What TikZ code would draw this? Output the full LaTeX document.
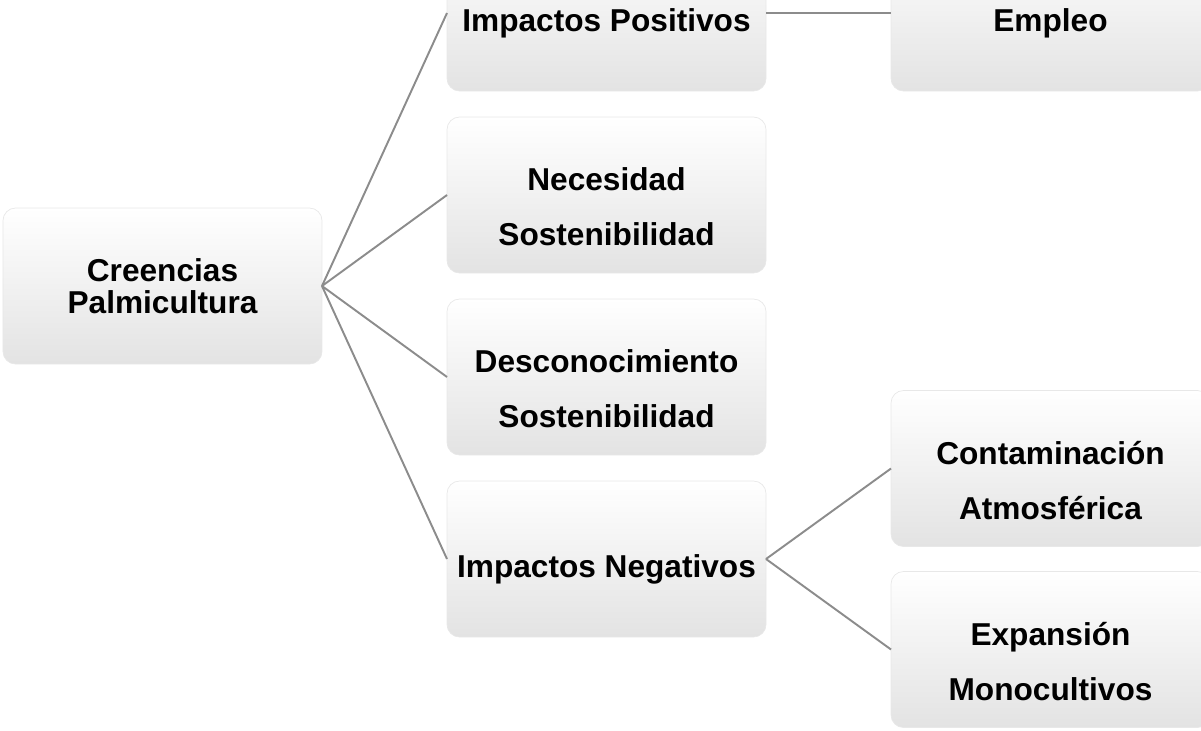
\documentclass[tikz,border=0pt]{standalone}
\usepackage{fontspec}
\setmainfont{Liberation Sans}
\usepackage{xcolor}
\usepackage{tikz}
\usetikzlibrary{positioning}

\newcommand{\twolines}[2]{\begin{tabular}{@{}c@{}}\rule{0pt}{32pt}#1\\[12.5pt]#2\end{tabular}}

\begin{document}
\begin{tikzpicture}[
    box/.style={rectangle, draw=black!9, top color=white, middle color=white, bottom color=black!11,
        rounded corners=0.25cm, minimum width=6.38cm, minimum height=3.12cm, outer sep=0pt,
        align=center, font=\fontsize{18}{18.5}\selectfont\bfseries},
    low/.style={execute at begin node={\rule{0pt}{24.5pt}}},
    link/.style={draw=black!45, line width=1.1pt}
]
\useasboundingbox (0,0) rectangle (24.02,-14.6);
\clip (0,0) rectangle (24.02,-14.6);

% Root
\node[box] (root) at (3.25,-5.72) {Creencias\\Palmicultura};

% First level
\node[box, right=2.5cm of root, yshift=1.82cm] (nec) {\twolines{Necesidad}{Sostenibilidad}};
\node[box, low, above=0.52cm of nec] (pos) {Impactos Positivos};
\node[box, below=0.52cm of nec] (des) {\twolines{Desconocimiento}{Sostenibilidad}};
\node[box, low, below=0.52cm of des] (neg) {Impactos Negativos};

% Second level
\node[box, low, right=2.5cm of pos] (emp) {Empleo};
\node[box, right=2.5cm of neg, yshift=1.81cm] (con) {\twolines{Contaminación}{Atmosférica}};
\node[box, below=0.5cm of con] (exp) {\twolines{Expansión}{Monocultivos}};

% Links
\draw[link] (root.east) -- (pos.west);
\draw[link] (root.east) -- (nec.west);
\draw[link] (root.east) -- (des.west);
\draw[link] (root.east) -- (neg.west);
\draw[link] (pos.east) -- (emp.west);
\draw[link] (neg.east) -- (con.west);
\draw[link] (neg.east) -- (exp.west);

\end{tikzpicture}
\end{document}
